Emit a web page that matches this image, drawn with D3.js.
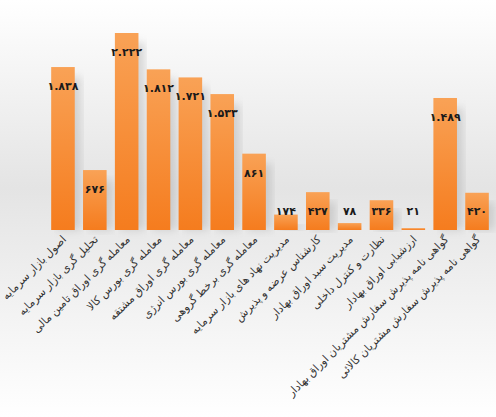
<!DOCTYPE html>
<html><head><meta charset="utf-8">
<script src="https://cdn.jsdelivr.net/npm/d3@7"></script>
<style>body{margin:0}</style></head>
<body><div id="chart"></div>
<script>
var categories = ["اصول بازار سرمایه","تحلیل گری بازار سرمایه","معامله گری اوراق تامین مالی","معامله گری بورس کالا","معامله گری اوراق مشتقه","معامله گری بورس انرژی","معامله گری برخط گروهی","مدیریت نهاد های بازار سرمایه","کارشناس عرضه و پذیرش","مدیریت سبد اوراق بهادار","نظارت و کنترل داخلی","ارزشیابی اوراق بهادار","گواهی نامه  پذیرش سفارش مشتریان اوراق بهادار","گواهی نامه  پذیرش سفارش مشتریان کالائی"];
var values = [1838,676,2222,1812,1721,1533,861,174,427,78,336,21,1489,420];

var W = 496, H = 417, base = 230;
var svg = d3.select("#chart").append("svg").attr("width", W).attr("height", H);
var defs = svg.append("defs");
var bg = defs.append("linearGradient").attr("id","bg").attr("x1",0).attr("y1",0).attr("x2",0).attr("y2",1);
bg.append("stop").attr("offset","0").attr("stop-color","#ffffff");
bg.append("stop").attr("offset","0.45").attr("stop-color","#e4e4e4");
bg.append("stop").attr("offset","1").attr("stop-color","#ffffff");
var bar = defs.append("linearGradient").attr("id","bar").attr("x1",0).attr("y1",0).attr("x2",0).attr("y2",1);
bar.append("stop").attr("offset","0").attr("stop-color","#f9a256");
bar.append("stop").attr("offset","1").attr("stop-color","#f57c1e");
defs.append("filter").attr("id","sh").append("feGaussianBlur").attr("stdDeviation",4);

svg.append("rect").attr("width",W).attr("height",H).attr("fill","url(#bg)");

var x = d3.scaleBand().domain(d3.range(values.length)).range([48, 492]).paddingInner(0.26).paddingOuter(0.1);
var y = d3.scaleLinear().domain([0, 2222]).range([base, 33]);

// shadow
svg.selectAll(".sh").data(values).enter().append("rect")
  .attr("x", function(d,i){ return x(i) + 6; })
  .attr("y", function(d){ return y(d) + 10; })
  .attr("width", x.bandwidth())
  .attr("height", function(d){ return Math.max(0, base - y(d) - 10); })
  .attr("fill", "#999").attr("opacity", 0.35).attr("filter","url(#sh)");

svg.selectAll(".bar").data(values).enter().append("rect")
  .attr("x", function(d,i){ return x(i); })
  .attr("y", function(d){ return y(d); })
  .attr("width", x.bandwidth())
  .attr("height", function(d){ return base - y(d); })
  .attr("fill", "url(#bar)");

var fa = function(v){
  var s = d3.format(",")(v).replace(/,/g, ".");
  return s.replace(/\d/g, function(c){ return "۰۱۲۳۴۵۶۷۸۹"[+c]; });
};
svg.selectAll(".val").data(values).enter().append("text")
  .attr("x", function(d,i){ return x(i) + x.bandwidth()/2; })
  .attr("y", function(d){ return Math.min(y(d) + 23, 215); })
  .attr("text-anchor","middle")
  .style("font-family","DejaVu Sans").style("font-weight","bold").style("font-size","11px")
  .attr("fill","#1a1a1a")
  .text(fa);

svg.selectAll(".lab").data(categories).enter().append("text")
  .attr("transform", function(d,i){ return "translate(" + (x(i) + x.bandwidth()/2 + 4) + "," + (base + 10) + ") rotate(-45)"; })
  .attr("text-anchor","end")
  .style("font-family","Noto Sans, DejaVu Sans").style("font-size","11px")
  .attr("fill","#333")
  .text(function(d){ return d; });
</script></body></html>
